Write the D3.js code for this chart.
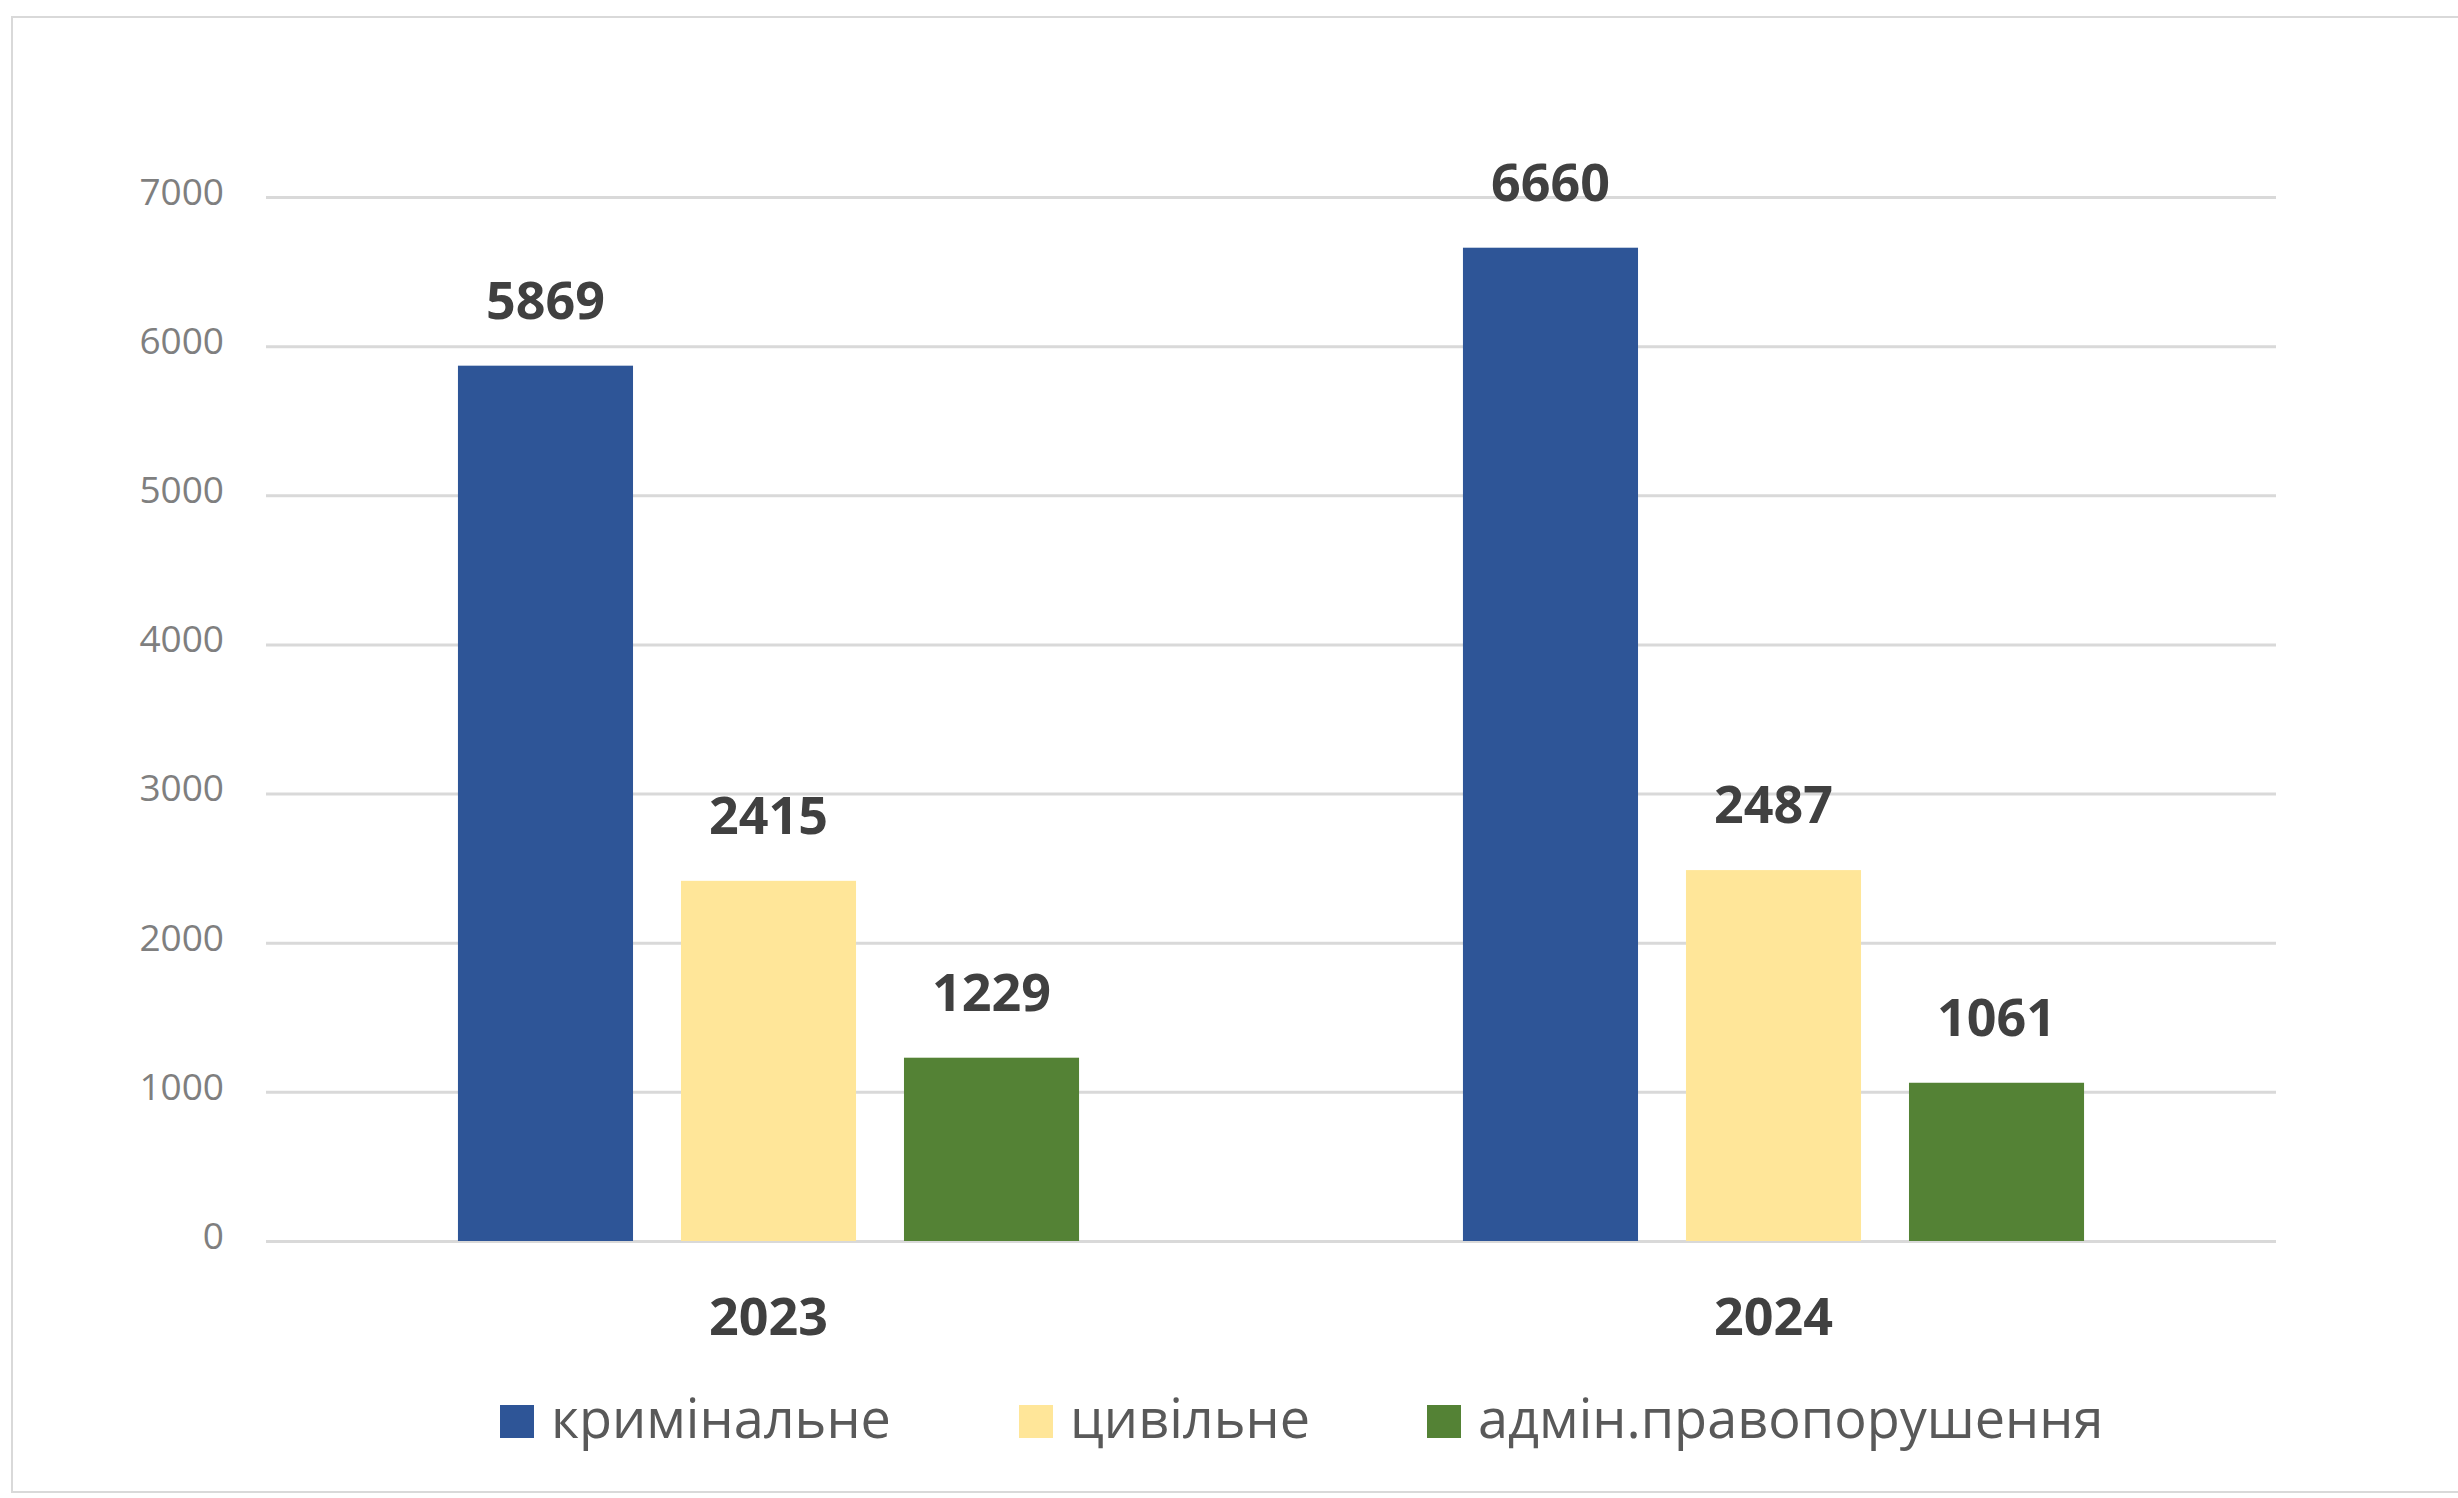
<!DOCTYPE html>
<html>
<head>
<meta charset="utf-8">
<script src="https://cdn.jsdelivr.net/npm/d3@7"></script>
<style>
  html, body { margin: 0; padding: 0; background: #fff; }
  svg { display: block; font-family: "Open Sans", "Noto Sans", sans-serif; }
  .grid line { stroke: #d9d9d9; stroke-width: 3; }
  .grid .domain { display: none; }
  .grid text { fill: #7f7f7f; font-size: 37px; font-family: "Open Sans", "Noto Sans", sans-serif; }
  .value { fill: #404040; font-size: 52px; font-weight: bold; }
  .year { fill: #404040; font-size: 52px; font-weight: bold; }
  .legend text { fill: #595959; font-size: 54px; }
</style>
</head>
<body>
<svg id="chart" width="2458" height="1498"></svg>
<script>
var years = ["2023", "2024"];
var seriesNames = ["кримінальне", "цивільне", "адмін.правопорушення"];
var seriesColors = ["#2e5597", "#ffe699", "#548235"];
var values2023 = [5869, 2415, 1229];
var values2024 = [6660, 2487, 1061];
var yTicks = [0, 1000, 2000, 3000, 4000, 5000, 6000, 7000];
var legendX = [500, 1019, 1427];

var table = years.map(function(yr, i) {
    var vals = i === 0 ? values2023 : values2024;
    return { year: yr, items: seriesNames.map(function(s, j) { return { name: s, value: vals[j], color: seriesColors[j] }; }) };
});

var svg = d3.select("#chart");

// outer frame
svg.append("rect")
    .attr("x", 12).attr("y", 17)
    .attr("width", 2480).attr("height", 1475)
    .attr("fill", "none")
    .attr("stroke", "#d9d9d9")
    .attr("stroke-width", 2);

var plotLeft = 266, plotRight = 2276, plotTop = 197, plotBottom = 1241;

var y = d3.scaleLinear().domain([0, 7000]).range([plotBottom, plotTop]);

var x0 = d3.scaleBand().domain(years).range([plotLeft, plotRight]).padding(0);

var bw = x0.bandwidth();
var x1 = d3.scaleBand().domain(seriesNames)
    .range([bw * 0.191, bw * 0.809])
    .paddingInner(0.215)
    .paddingOuter(0);

// gridlines + tick labels
svg.append("g")
    .attr("class", "grid")
    .attr("transform", "translate(" + plotLeft + ",0)")
    .call(d3.axisLeft(y)
        .tickValues(yTicks)
        .tickSize(-(plotRight - plotLeft))
        .tickPadding(42)
        .tickFormat(d3.format("d")))
    .selectAll("text")
    .attr("dy", "0.2em");

var groups = svg.selectAll(".group")
    .data(table)
    .enter().append("g")
    .attr("class", "group")
    .attr("transform", function(d) { return "translate(" + x0(d.year) + ",0)"; });

groups.selectAll("rect")
    .data(function(d) { return d.items; })
    .enter().append("rect")
    .attr("x", function(d) { return x1(d.name); })
    .attr("y", function(d) { return y(d.value); })
    .attr("width", x1.bandwidth())
    .attr("height", function(d) { return y(0) - y(d.value); })
    .attr("fill", function(d) { return d.color; });

groups.selectAll(".value")
    .data(function(d) { return d.items; })
    .enter().append("text")
    .attr("class", "value")
    .attr("text-anchor", "middle")
    .attr("x", function(d) { return x1(d.name) + x1.bandwidth() / 2; })
    .attr("y", function(d) { return y(d.value) - 47; })
    .text(function(d) { return d.value; });

svg.selectAll(".year")
    .data(years)
    .enter().append("text")
    .attr("class", "year")
    .attr("text-anchor", "middle")
    .attr("x", function(d) { return x0(d) + bw / 2; })
    .attr("y", 1335)
    .text(function(d) { return d; });

var legend = svg.append("g").attr("class", "legend");
var items = legend.selectAll("g")
    .data(seriesNames)
    .enter().append("g")
    .attr("transform", function(d, i) { return "translate(" + legendX[i] + ",1405)"; });

items.append("rect")
    .attr("width", 34).attr("height", 33)
    .attr("fill", function(d, i) { return seriesColors[i]; });

items.append("text")
    .attr("x", 51)
    .attr("y", 33)
    .text(function(d) { return d; });
</script>
</body>
</html>
